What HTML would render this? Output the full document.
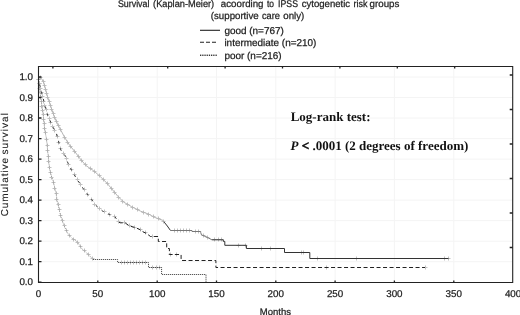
<!DOCTYPE html>
<html><head><meta charset="utf-8"><style>
html,body{margin:0;padding:0;background:#fff;width:520px;height:315px;overflow:hidden}
svg{display:block} text{text-rendering:geometricPrecision} body{filter:grayscale(1) blur(0.3px)}
</style></head><body>
<svg width="520" height="315" viewBox="0 0 520 315">
<rect width="520" height="315" fill="#fff"/>
<path d="M97.8,66.5V282.5M157.2,66.5V282.5M216.5,66.5V282.5M275.8,66.5V282.5M335.1,66.5V282.5M394.4,66.5V282.5M453.8,66.5V282.5M38.5,261.7H512.7M38.5,241.2H512.7M38.5,220.6H512.7M38.5,200.1H512.7M38.5,179.6H512.7M38.5,159.1H512.7M38.5,138.6H512.7M38.5,118.0H512.7M38.5,97.5H512.7M38.5,77.0H512.7" stroke="#f4f4f4" stroke-width="1" fill="none"/>
<g font-family="'Liberation Sans', sans-serif" fill="#222" stroke="#222" stroke-width="0.25">
<text x="117.9" y="7.3" font-size="9.8" textLength="31.57" lengthAdjust="spacingAndGlyphs">Survival</text><text x="153.1" y="7.3" font-size="9.8" textLength="61.11" lengthAdjust="spacingAndGlyphs">(Kaplan-Meier)</text><text x="220.8" y="7.3" font-size="9.8" textLength="42.73" lengthAdjust="spacingAndGlyphs">acoording</text><text x="266.9" y="7.3" font-size="9.8" textLength="7.05" lengthAdjust="spacingAndGlyphs">to</text><text x="278.1" y="7.3" font-size="9.8" textLength="19.89" lengthAdjust="spacingAndGlyphs">IPSS</text><text x="301.7" y="7.3" font-size="9.8" textLength="48.47" lengthAdjust="spacingAndGlyphs">cytogenetic</text><text x="353.5" y="7.3" font-size="9.8" textLength="14.03" lengthAdjust="spacingAndGlyphs">risk</text><text x="369.6" y="7.3" font-size="9.8" textLength="29.77" lengthAdjust="spacingAndGlyphs">groups</text>
<text x="210.8" y="18.6" font-size="9.8" textLength="47.9" lengthAdjust="spacingAndGlyphs">(supportive</text><text x="261.9" y="18.6" font-size="9.8" textLength="17.96" lengthAdjust="spacingAndGlyphs">care</text><text x="283.3" y="18.6" font-size="9.8" textLength="20.95" lengthAdjust="spacingAndGlyphs">only)</text>
<g font-size="9.95">
<text x="224.4" y="33.6">good (n=767)</text>
<text x="224.4" y="46.4">intermediate (n=210)</text>
<text x="224.4" y="59.2">poor (n=216)</text>
</g>
</g>
<g stroke="#222" fill="none">
<path d="M200,30.3H220" stroke-width="1.1"/>
<path d="M200,42.3H216.6" stroke-width="1.1" stroke-dasharray="4,2"/>
</g><g fill="#222"><rect x="200" y="54.6" width="1.3" height="1.3"/><rect x="202.2" y="54.6" width="1.3" height="1.3"/><rect x="204.4" y="54.6" width="1.3" height="1.3"/><rect x="206.6" y="54.6" width="1.3" height="1.3"/><rect x="208.8" y="54.6" width="1.3" height="1.3"/><rect x="211" y="54.6" width="1.3" height="1.3"/><rect x="213.2" y="54.6" width="1.3" height="1.3"/><rect x="215.5" y="54.6" width="1.3" height="1.3"/>
</g>
<g font-family="'Liberation Sans', sans-serif" font-size="9.8" fill="#222" stroke="#222" stroke-width="0.25"><text x="33" y="285.4" text-anchor="end">0.0</text><text x="33" y="264.9" text-anchor="end">0.1</text><text x="33" y="244.4" text-anchor="end">0.2</text><text x="33" y="223.8" text-anchor="end">0.3</text><text x="33" y="203.3" text-anchor="end">0.4</text><text x="33" y="182.8" text-anchor="end">0.5</text><text x="33" y="162.3" text-anchor="end">0.6</text><text x="33" y="141.8" text-anchor="end">0.7</text><text x="33" y="121.2" text-anchor="end">0.8</text><text x="33" y="100.7" text-anchor="end">0.9</text><text x="33" y="80.2" text-anchor="end">1.0</text><text x="38.5" y="297" text-anchor="middle">0</text><text x="97.8" y="297" text-anchor="middle">50</text><text x="157.2" y="297" text-anchor="middle">100</text><text x="216.5" y="297" text-anchor="middle">150</text><text x="275.8" y="297" text-anchor="middle">200</text><text x="335.1" y="297" text-anchor="middle">250</text><text x="394.4" y="297" text-anchor="middle">300</text><text x="453.8" y="297" text-anchor="middle">350</text><text x="513.1" y="297" text-anchor="middle">400</text>
<text x="275.4" y="314.5" font-size="9.5" text-anchor="middle">Months</text>
<g transform="translate(8.3,0) rotate(-90)" font-size="10" stroke-width="0.1"><text x="-216.3" y="0" textLength="58.3">Cumulative</text><text x="-154.6" y="0" textLength="41.5">survival</text></g>
</g>
<g font-family="'Liberation Serif', serif" font-weight="bold" font-size="13" fill="#111">
<text x="290.7" y="120.6">Log-rank test:</text>
<text x="290.6" y="149.9"><tspan font-style="italic">P</tspan> <tspan stroke="#111" stroke-width="0.6">&lt;</tspan> .0001 (2 degrees of freedom)</text>
</g>
<g fill="none" stroke-width="1" stroke="#c0c0c0">
<path d="M38.5,77.5h4.0M40.5,75.5v4.0M41.5,81.5h4.0M43.5,79.5v4.0M42.5,85.5h4.0M44.5,83.5v4.0M43.5,89.5h4.0M45.5,87.5v4.0M44.5,93.5h4.0M46.5,91.5v4.0M45.5,97.5h4.0M47.5,95.5v4.0M47.5,101.5h4.0M49.5,99.5v4.0M48.5,105.5h4.0M50.5,103.5v4.0M49.5,109.5h4.0M51.5,107.5v4.0M51.5,113.5h4.0M53.5,111.5v4.0M52.5,117.5h4.0M54.5,115.5v4.0M54.5,121.5h4.0M56.5,119.5v4.0M56.5,125.5h4.0M58.5,123.5v4.0M58.5,129.5h4.0M60.5,127.5v4.0M62.5,137.5h4.0M64.5,135.5v4.0M65.5,142.5h4.0M67.5,140.5v4.0M68.5,146.5h4.0M70.5,144.5v4.0M72.5,151.5h4.0M74.5,149.5v4.0M76.5,156.5h4.0M78.5,154.5v4.0M79.5,160.5h4.0M81.5,158.5v4.0M83.5,164.5h4.0M85.5,162.5v4.0M88.5,168.5h4.0M90.5,166.5v4.0M92.5,171.5h4.0M94.5,169.5v4.0M97.5,175.5h4.0M99.5,173.5v4.0M101.5,179.5h4.0M103.5,177.5v4.0M105.5,183.5h4.0M107.5,181.5v4.0M109.5,188.5h4.0M111.5,186.5v4.0M112.5,192.5h4.0M114.5,190.5v4.0M116.5,197.5h4.0M118.5,195.5v4.0M120.5,201.5h4.0M122.5,199.5v4.0M125.5,204.5h4.0M127.5,202.5v4.0M130.5,207.5h4.0M132.5,205.5v4.0M135.5,209.5h4.0M137.5,207.5v4.0M141.5,212.5h4.0M143.5,210.5v4.0M146.5,214.5h4.0M148.5,212.5v4.0M151.5,216.5h4.0M153.5,214.5v4.0M156.5,218.5h4.0M158.5,216.5v4.0M161.5,221.5h4.0M163.5,219.5v4.0M172.5,230.5h4.0M174.5,228.5v4.0M175.5,230.5h4.0M177.5,228.5v4.0M178.5,230.5h4.0M180.5,228.5v4.0M181.5,230.5h4.0M183.5,228.5v4.0M184.5,230.5h4.0M186.5,228.5v4.0M187.5,230.5h4.0M189.5,228.5v4.0M193.5,231.5h4.0M195.5,229.5v4.0M196.5,231.5h4.0M198.5,229.5v4.0M201.5,235.5h4.0M203.5,233.5v4.0M205.5,237.5h4.0M207.5,235.5v4.0M212.5,239.5h4.0M214.5,237.5v4.0M216.5,239.5h4.0M218.5,237.5v4.0M219.5,239.5h4.0M221.5,237.5v4.0M236.5,245.5h4.0M238.5,243.5v4.0M243.5,245.5h4.0M245.5,243.5v4.0M259.5,248.5h4.0M261.5,246.5v4.0M268.5,248.5h4.0M270.5,246.5v4.0M299.5,252.5h4.0M301.5,250.5v4.0M301.5,252.5h4.0M303.5,250.5v4.0M315.5,258.5h4.0M317.5,256.5v4.0M354.5,258.5h4.0M356.5,256.5v4.0M442.5,258.5h4.0M444.5,256.5v4.0M446.5,258.5h4.0M448.5,256.5v4.0"/>
<path d="M36.5,79.5h4.0M38.5,77.5v4.0M37.5,83.5h4.0M39.5,81.5v4.0M38.5,88.5h4.0M40.5,86.5v4.0M39.5,92.5h4.0M41.5,90.5v4.0M40.5,96.5h4.0M42.5,94.5v4.0M41.5,101.5h4.0M43.5,99.5v4.0M42.5,105.5h4.0M44.5,103.5v4.0M44.5,109.5h4.0M46.5,107.5v4.0M45.5,114.5h4.0M47.5,112.5v4.0M47.5,118.5h4.0M49.5,116.5v4.0M48.5,122.5h4.0M50.5,120.5v4.0M50.5,126.5h4.0M52.5,124.5v4.0M52.5,130.5h4.0M54.5,128.5v4.0M55.5,136.5h4.0M57.5,134.5v4.0M56.5,142.5h4.0M58.5,140.5v4.0M58.5,148.5h4.0M60.5,146.5v4.0M61.5,153.5h4.0M63.5,151.5v4.0M64.5,158.5h4.0M66.5,156.5v4.0M66.5,164.5h4.0M68.5,162.5v4.0M69.5,169.5h4.0M71.5,167.5v4.0M72.5,174.5h4.0M74.5,172.5v4.0M75.5,179.5h4.0M77.5,177.5v4.0M78.5,184.5h4.0M80.5,182.5v4.0M82.5,189.5h4.0M84.5,187.5v4.0M85.5,194.5h4.0M87.5,192.5v4.0M89.5,199.5h4.0M91.5,197.5v4.0M92.5,204.5h4.0M94.5,202.5v4.0M97.5,208.5h4.0M99.5,206.5v4.0M102.5,211.5h4.0M104.5,209.5v4.0M107.5,214.5h4.0M109.5,212.5v4.0M112.5,216.5h4.0M114.5,214.5v4.0M116.5,221.5h4.0M118.5,219.5v4.0M122.5,222.5h4.0M124.5,220.5v4.0M127.5,225.5h4.0M129.5,223.5v4.0M132.5,227.5h4.0M134.5,225.5v4.0M138.5,229.5h4.0M140.5,227.5v4.0M143.5,232.5h4.0M145.5,230.5v4.0M324.5,267.5h4.0M326.5,265.5v4.0M423.5,267.5h4.0M425.5,265.5v4.0M150.5,236.5h4.0M152.5,234.5v4.0M168.5,254.5h4.0M170.5,252.5v4.0M174.5,254.5h4.0M176.5,252.5v4.0"/>
<path d="M36.5,79.5h4.0M38.5,77.5v4.0M37.5,83.5h4.0M39.5,81.5v4.0M37.5,88.5h4.0M39.5,86.5v4.0M38.5,92.5h4.0M40.5,90.5v4.0M38.5,97.5h4.0M40.5,95.5v4.0M39.5,101.5h4.0M41.5,99.5v4.0M39.5,106.5h4.0M41.5,104.5v4.0M40.5,110.5h4.0M42.5,108.5v4.0M41.5,114.5h4.0M43.5,112.5v4.0M41.5,119.5h4.0M43.5,117.5v4.0M42.5,123.5h4.0M44.5,121.5v4.0M42.5,128.5h4.0M44.5,126.5v4.0M43.5,132.5h4.0M45.5,130.5v4.0M44.5,139.5h4.0M46.5,137.5v4.0M45.5,145.5h4.0M47.5,143.5v4.0M45.5,150.5h4.0M47.5,148.5v4.0M46.5,156.5h4.0M48.5,154.5v4.0M46.5,161.5h4.0M48.5,159.5v4.0M47.5,167.5h4.0M49.5,165.5v4.0M48.5,172.5h4.0M50.5,170.5v4.0M49.5,177.5h4.0M51.5,175.5v4.0M51.5,182.5h4.0M53.5,180.5v4.0M52.5,188.5h4.0M54.5,186.5v4.0M54.5,193.5h4.0M56.5,191.5v4.0M54.5,199.5h4.0M56.5,197.5v4.0M56.5,204.5h4.0M58.5,202.5v4.0M57.5,209.5h4.0M59.5,207.5v4.0M58.5,215.5h4.0M60.5,213.5v4.0M60.5,220.5h4.0M62.5,218.5v4.0M62.5,225.5h4.0M64.5,223.5v4.0M64.5,230.5h4.0M66.5,228.5v4.0M67.5,235.5h4.0M69.5,233.5v4.0M71.5,239.5h4.0M73.5,237.5v4.0M75.5,242.5h4.0M77.5,240.5v4.0M78.5,246.5h4.0M80.5,244.5v4.0M82.5,250.5h4.0M84.5,248.5v4.0M86.5,254.5h4.0M88.5,252.5v4.0M90.5,258.5h4.0M92.5,256.5v4.0M119.5,262.5h4.0M121.5,260.5v4.0M122.5,262.5h4.0M124.5,260.5v4.0M125.5,262.5h4.0M127.5,260.5v4.0M128.5,262.5h4.0M130.5,260.5v4.0M131.5,262.5h4.0M133.5,260.5v4.0M134.5,262.5h4.0M136.5,260.5v4.0M137.5,262.5h4.0M139.5,260.5v4.0M140.5,262.5h4.0M142.5,260.5v4.0M143.5,262.5h4.0M145.5,260.5v4.0M150.5,267.5h4.0M152.5,265.5v4.0M154.5,267.5h4.0M156.5,265.5v4.0M157.5,267.5h4.0M159.5,265.5v4.0"/>
</g>
<g fill="none" stroke-width="1">
<path d="M38.50,77.00 L39.50,88.00 L40.80,98.00 L43.10,113.80 L44.70,129.70 L46.60,139.60 L47.50,149.20 L48.50,158.80 L49.50,168.50 L51.40,176.20 L52.90,180.00 L55.70,191.40 L57.10,200.00 L59.60,211.70 L62.20,220.50 L64.90,227.50 L68.40,234.50 L72.70,238.80 L76.20,240.60 L78.80,244.10 L82.30,249.30 L85.80,252.00 L89.30,255.50 L93.20,259.50 L93.20,259.50" stroke="#999" stroke-dasharray="1,1"/>
<path d="M93.20,259.50 L93.20,259.50 L117.60,259.50 L117.60,262.50 L148.50,262.50 L148.50,267.50 L161.60,267.50 L161.60,274.50 L206.00,274.50 L206.00,282.00" stroke="#333" stroke-dasharray="1,1"/>
<path d="M38.50,77.00 L40.00,86.00 L43.10,98.00 L45.00,106.00 L47.10,113.80 L49.50,119.50 L51.90,124.90 L54.50,130.00 L56.20,133.00 L57.70,138.20 L59.60,145.10 L60.80,149.70 L62.50,152.50 L64.80,155.00 L67.70,162.70 L71.60,170.40 L76.40,178.10 L80.40,184.40 L84.90,191.10 L90.40,197.80 L96.00,205.60 L102.70,211.10 L109.30,214.40 L114.90,216.70 L118.20,221.60 L119.00,222.13" stroke="#333" stroke-dasharray="2.5,5"/>
<path d="M119.00,222.13 L120.00,222.80 L125.00,222.80 L129.50,226.00 L134.00,227.20 L139.00,229.10 L142.90,231.70 L146.70,233.60 L150.50,236.50 L158.30,236.50 L158.30,241.50 L166.70,241.50 L166.70,248.50 L169.40,248.50 L169.40,254.50 L181.10,254.50 L181.10,260.50 L215.90,260.50 L215.90,267.50 L425.00,267.50" stroke="#222" stroke-dasharray="4,2.5"/>
<path d="M38.50,77.00 L41.50,78.50 L43.50,82.00 L45.50,89.00 L47.50,96.50 L50.30,105.00 L54.00,116.00 L58.00,125.00 L61.00,130.50 L64.80,137.70 L69.70,145.40 L74.50,151.20 L80.20,158.80 L86.00,165.60 L93.70,170.80 L100.40,176.70 L107.10,183.30 L112.70,190.00 L118.20,196.70 L123.80,202.20 L131.60,206.70 L140.40,211.10 L149.30,214.40 L154.00,217.10 L159.00,219.00 L162.90,220.30 L164.00,221.81" stroke="#b4b4b4"/>
<path d="M164.00,221.81 L164.80,222.90 L167.30,226.00 L170.50,230.50 L170.50,230.50" stroke="#333"/>
<path d="M170.50,230.50 L170.50,230.50 L192.00,230.50 L192.00,231.50 L200.70,231.50 L200.70,232.50 L201.50,234.90 L205.80,236.60 L207.60,237.50 L211.90,239.80 L211.90,239.80" stroke="#777"/>
<path d="M211.90,239.80 L211.90,239.80 L223.30,239.80 L223.30,241.40 L224.80,241.40 L224.80,245.30 L246.40,245.30 L246.40,248.50 L284.50,248.50 L284.50,252.50 L309.80,252.50 L309.80,258.50 L448.50,258.50" stroke="#333"/>
</g>
<path d="M38.5,66.5H512.7V282.5H38.5Z" stroke="#222" stroke-width="1.1" fill="none"/>
<path d="M38.5,282.2h3M38.5,261.7h3M38.5,241.2h3M38.5,220.6h3M38.5,200.1h3M38.5,179.6h3M38.5,159.1h3M38.5,138.6h3M38.5,118.0h3M38.5,97.5h3M38.5,77.0h3M97.8,282.5v-2M157.2,282.5v-2M216.5,282.5v-2M275.8,282.5v-2M335.1,282.5v-2M394.4,282.5v-2M453.8,282.5v-2M52.9,66.5v2M110.3,66.5v2M167.7,66.5v2M225.1,66.5v2M282.5,66.5v2M339.9,66.5v2M397.3,66.5v2M454.7,66.5v2M512.7,247.5h-3M512.7,213.0h-3M512.7,178.5h-3M512.7,144.0h-3M512.7,109.5h-3M512.7,75.0h-3" stroke="#222" stroke-width="1.3" fill="none"/>
</svg>
</body></html>
